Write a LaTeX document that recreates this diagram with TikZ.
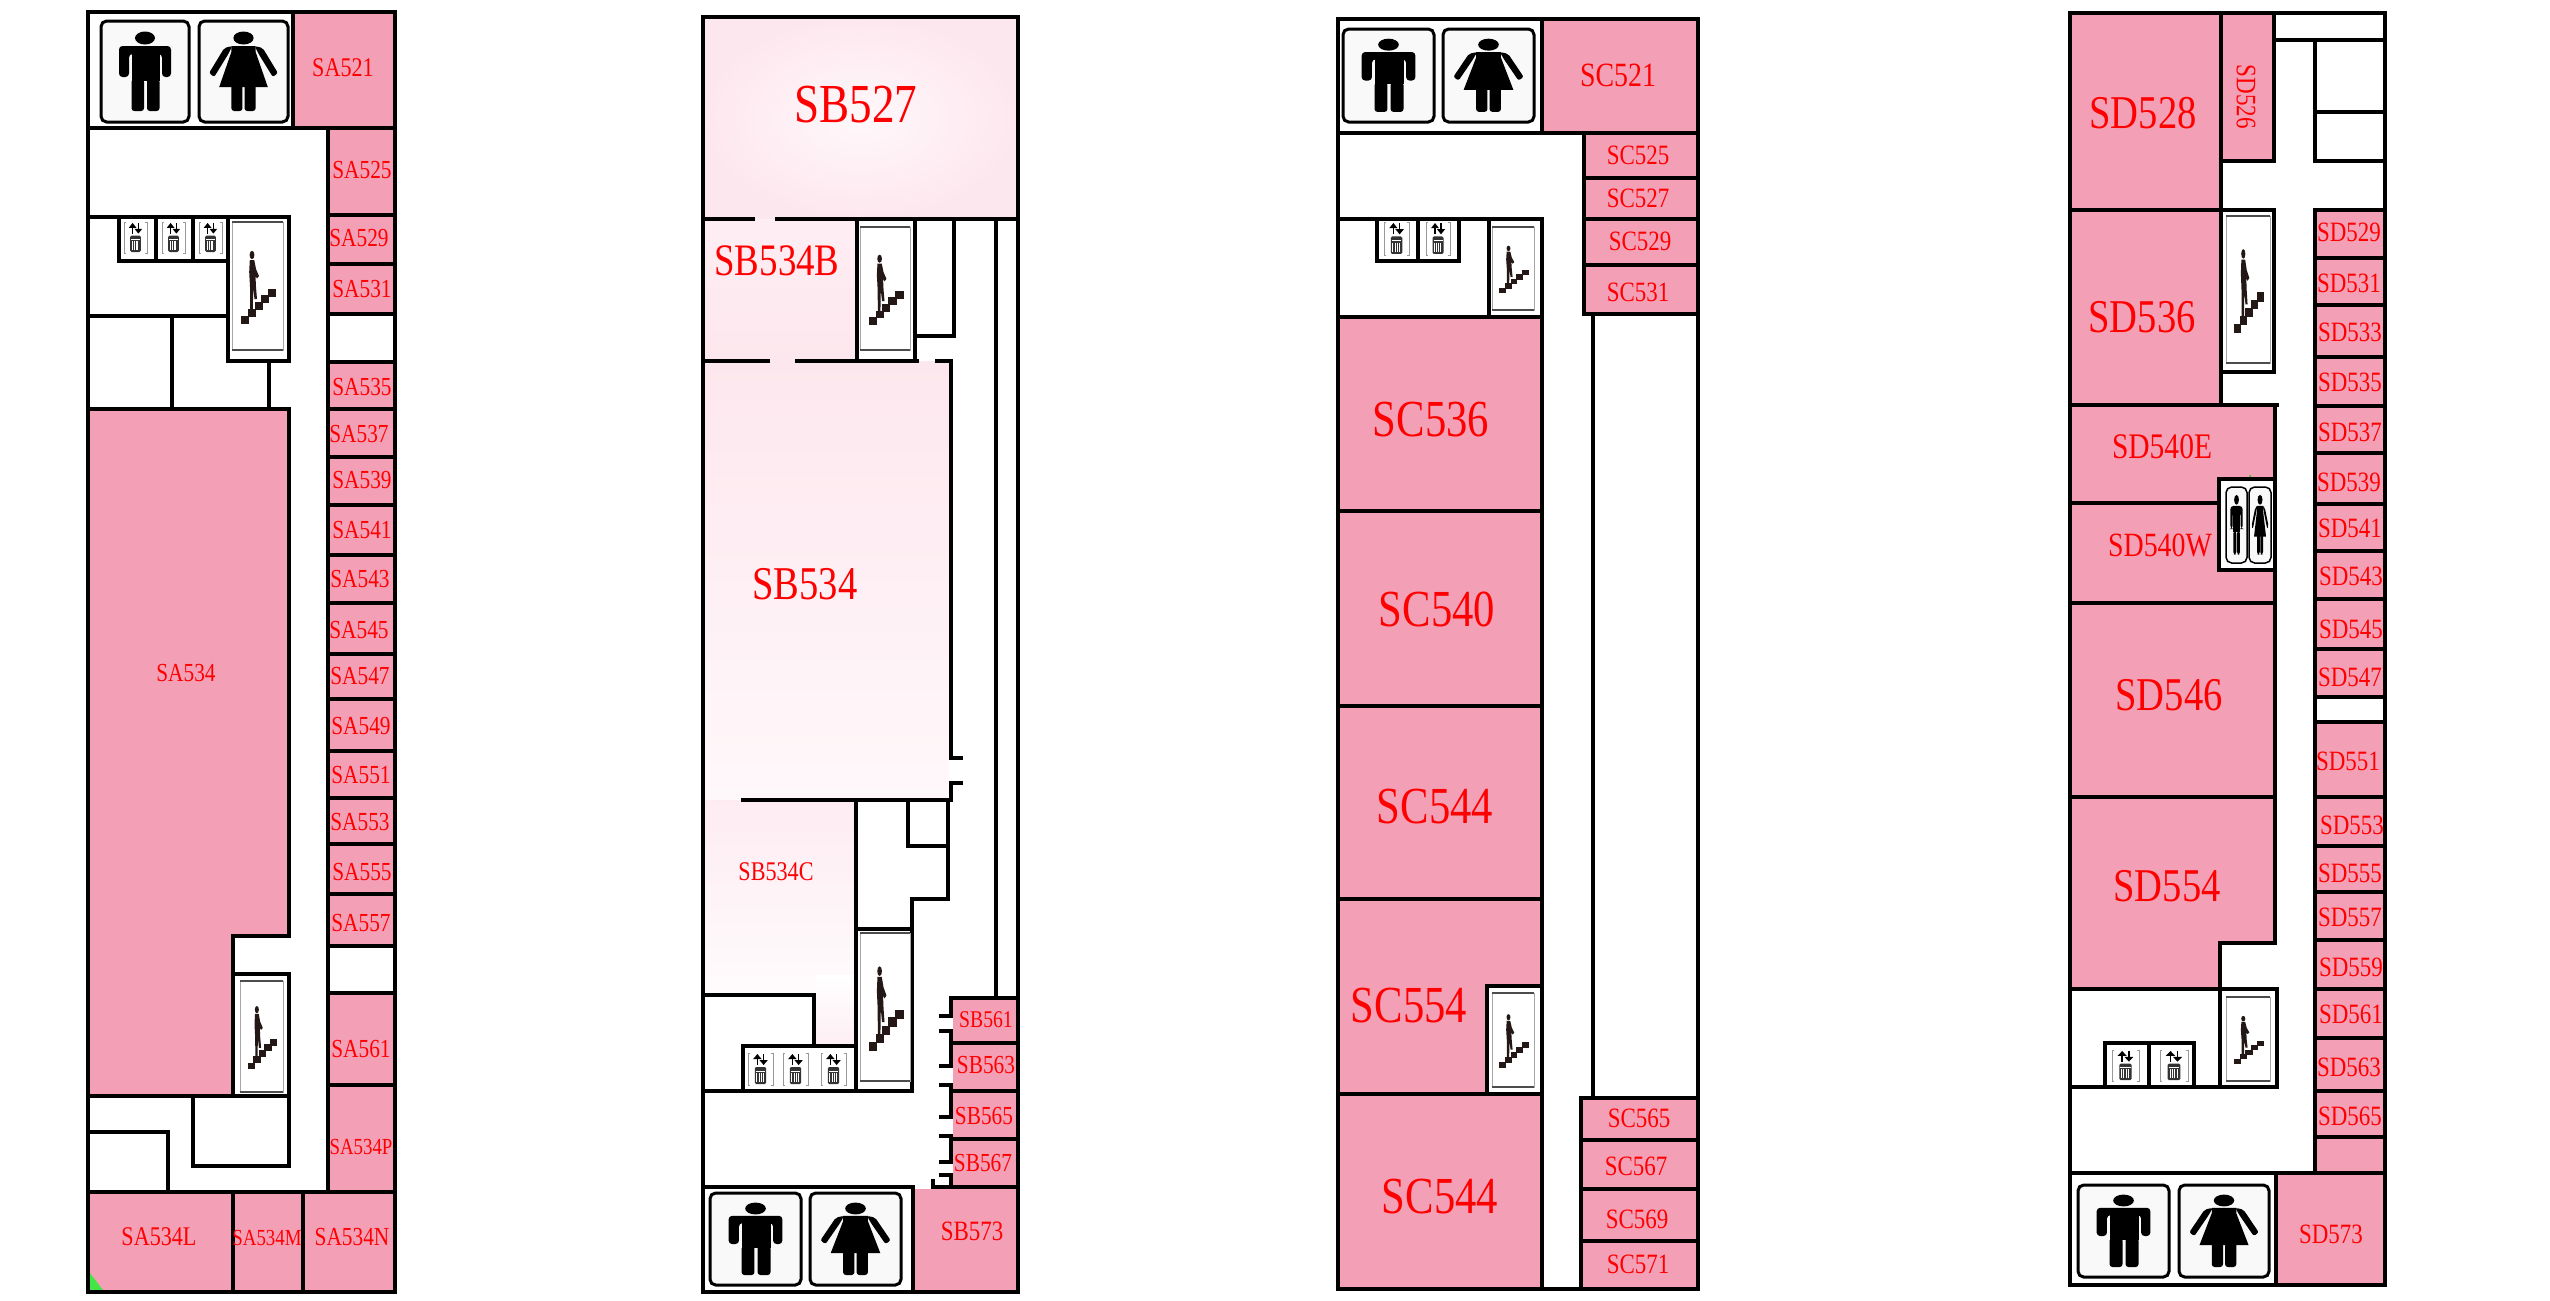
\documentclass[tikz,border=0pt]{standalone}
\usepackage{fontspec}
\newfontfamily\lab[FakeStretch=0.82]{Liberation Serif}
\definecolor{roompink}{HTML}{F3A0B7}
\definecolor{paleA}{HTML}{FDE7EE}
\definecolor{paleB}{HTML}{FFF8FA}
\definecolor{stepdark}{HTML}{231815}
\definecolor{signbg}{HTML}{F9F9F9}
\tikzset{
  wall/.style={line width=0.4mm,line join=miter,line cap=rect,draw=black},
  roomtext/.style={text=red,inner sep=0pt,outer sep=0pt,anchor=center},
  mansign/.pic={
    \draw[line width=\fpsignlw,fill=signbg,rounded corners=1.6pt] (0,0) rectangle (88,101);
    \fill[black] (44,17) ellipse [x radius=10,y radius=6.5];
    \fill[black,rounded corners=1pt] (18,56) -- (18,25) -- (70,25) -- (70,56) -- (61,56) -- (61,33) -- (28,33) -- (28,56) -- cycle;
    \fill[black] (30.5,30) rectangle (58.5,60);
    \fill[black,rounded corners=0.8pt] (30.5,58) -- (43,58) -- (43,90) -- (30.5,90) -- cycle;
    \fill[black,rounded corners=0.8pt] (46,58) -- (58.5,58) -- (58.5,90) -- (46,90) -- cycle;
  },
  womansign/.pic={
    \draw[line width=\fpsignlw,fill=signbg,rounded corners=1.6pt] (0,0) rectangle (88,101);
    \fill[black] (44,17) ellipse [x radius=10,y radius=6.5];
    \fill[black,rounded corners=0.6pt] (33,25) -- (25,27) -- (10,52) -- (15,56) -- (29,33) -- cycle;
    \fill[black,rounded corners=0.6pt] (55,25) -- (63,27) -- (78,52) -- (73,56) -- (59,33) -- cycle;
    \fill[black] (32,25) -- (56,25) -- (56,31) -- (68,66) -- (20,66) -- (32,31) -- cycle;
    \fill[black,rounded corners=0.8pt] (32,62) -- (43,62) -- (43,90) -- (32,90) -- cycle;
    \fill[black,rounded corners=0.8pt] (45,62) -- (56,62) -- (56,90) -- (45,90) -- cycle;
  },
  stairsign/.pic={
    \draw[line width=0.1mm,draw=gray!70,fill=white] (0,0) rectangle (51,128);
    \draw[line width=0.15mm,draw=black!70] (0,0) -- (51,0) (0,128) -- (51,128);
    \fill[stepdark] (20,33) ellipse [x radius=2.4,y radius=4.2];
    \fill[stepdark] (17.8,38) -- (22.2,38) -- (24,47) -- (27,54) -- (25,56.5) -- (23.5,54) -- (24,65) -- (25,77) -- (22.5,77) -- (21.2,66) -- (20.8,89) -- (18.2,89) -- (18,65) -- (17.2,50) -- cycle;
    \foreach \sx/\sy in {9/94,16/87,22.5/80,29/73,36/66.5}{
      \fill[stepdark] (\sx,\sy) rectangle +(8.4,8);
    }
  },
  liftsign/.pic={
    \draw[line width=0.08mm,draw=gray!80] (2,0) -- (0,0) -- (0,32) -- (2,32) (22,0) -- (24,0) -- (24,32) -- (22,32);
    \fill[black] (8.2,4) rectangle (9.8,12);
    \fill[black] (5,6) -- (9,1) -- (13,6) -- cycle;
    \fill[black] (14.2,1) rectangle (15.8,9);
    \fill[black] (11,7) -- (15,12) -- (19,7) -- cycle;
    \fill[black!80,rounded corners=0.4pt] (6.5,14) rectangle (17.5,31);
    \draw[line width=0.08mm,draw=white] (7.5,18) -- (16.5,18);
    \foreach \lx in {8.5,10.5,12.5,14.5}{\draw[line width=0.08mm,draw=white] (\lx,20) -- (\lx,29);}
  }
}
\newcommand{\fpsignlw}{0.3mm}
\newcommand{\fpman}[4]{\pgfmathsetmacro\fpsx{(#3-#1)/88}\pgfmathsetmacro\fpsy{(#4-#2)/101}\pic[xscale=\fpsx,yscale=\fpsy] at (#1,#2) {mansign};}
\newcommand{\fpwoman}[4]{\pgfmathsetmacro\fpsx{(#3-#1)/88}\pgfmathsetmacro\fpsy{(#4-#2)/101}\pic[xscale=\fpsx,yscale=\fpsy] at (#1,#2) {womansign};}
\newcommand{\fpstair}[4]{\pgfmathsetmacro\fpsx{(#3-#1)/51}\pgfmathsetmacro\fpsy{(#4-#2)/128}\pic[xscale=\fpsx,yscale=\fpsy] at (#1,#2) {stairsign};}
\newcommand{\fplift}[4]{\pgfmathsetmacro\fpsx{(#3-#1)/24}\pgfmathsetmacro\fpsy{(#4-#2)/32}\pic[xscale=\fpsx,yscale=\fpsy] at (#1,#2) {liftsign};}
\newcommand{\pinkroom}[4]{\draw[wall,fill=roompink] (#1,#2) rectangle (#3,#4);}
\newcommand{\whiteroom}[4]{\draw[wall,fill=white] (#1,#2) rectangle (#3,#4);}
\newcommand{\rl}[5]{\pgfmathsetmacro\fpfs{#5*0.28453}\node[roomtext] (#1) at (#2,#3) {\lab\fontsize{\fpfs pt}{\fpfs pt}\selectfont #4};}
\begin{document}
\begin{tikzpicture}[x=0.1mm,y=-0.1mm]
\useasboundingbox (0,0) rectangle (2550,1300);
\fill[white] (0,0) rectangle (2550,1300);

% ---------- Plan A ----------
\pinkroom{293}{12}{395}{128}
\foreach \a/\b in {128/215,215/264,264/314,362/409,409/457,457/505,505/555,555/603,603/654,654/699,699/751,751/798,798/844,844/894,894/946,993/1085,1085/1192}{\pinkroom{328}{\a}{395}{\b}}
\whiteroom{328}{314}{395}{362}
\whiteroom{328}{946}{395}{993}
\pinkroom{88}{1192}{233}{1292}
\pinkroom{233}{1192}{303}{1292}
\pinkroom{303}{1192}{395}{1292}
\fill[green!70!white!90!black] (90,1290) -- (90,1273) -- (103,1290) -- cycle;
\draw[wall,fill=roompink] (88,409) -- (289,409) -- (289,936) -- (233,936) -- (233,1096) -- (88,1096) -- cycle;
\draw[wall] (88,12) rectangle (395,1292);
\draw[wall] (88,128) -- (395,128);
\draw[wall] (293,12) -- (293,128);
\draw[wall] (88,217) -- (289,217) -- (289,361) -- (228,361) -- (228,217);
\draw[wall] (119,217) -- (119,261) -- (228,261);
\draw[wall] (156,217) -- (156,261) (193,217) -- (193,261);
\draw[wall] (88,316) -- (228,316);
\draw[wall] (172,316) -- (172,409);
\draw[wall] (269,361) -- (269,409);
\draw[wall] (233,974) -- (289,974) -- (289,1096) -- (233,1096);
\draw[wall] (193,1096) -- (193,1166) -- (289,1166) -- (289,1096);
\draw[wall] (88,1132) -- (168,1132) -- (168,1192);
\fpman{101}{21}{189}{122}
\fpwoman{199}{21}{288}{122}
\fplift{124}{222}{147}{253}
\fplift{162}{222}{185}{253}
\fplift{199}{222}{222}{253}
\fpstair{232}{222}{283}{350}
\fpstair{240}{981}{283}{1092}
\rl{sa521}{343}{68}{SA521}{27}
\rl{sa525}{362}{170}{SA525}{26}
\rl{sa529}{359}{238}{SA529}{26}
\rl{sa531}{362}{289}{SA531}{26}
\rl{sa535}{362}{387}{SA535}{26}
\rl{sa537}{359}{434}{SA537}{26}
\rl{sa539}{362}{480}{SA539}{26}
\rl{sa541}{362}{530}{SA541}{26}
\rl{sa543}{360}{579}{SA543}{26}
\rl{sa545}{359}{630}{SA545}{26}
\rl{sa547}{360}{676}{SA547}{26}
\rl{sa549}{361}{726}{SA549}{26}
\rl{sa551}{361}{775}{SA551}{26}
\rl{sa553}{360}{822}{SA553}{26}
\rl{sa555}{362}{872}{SA555}{26}
\rl{sa557}{361}{923}{SA557}{26}
\rl{sa561}{361}{1049}{SA561}{26}
\rl{sa534p}{361}{1147}{SA534P}{23}
\rl{sa534l}{159}{1237}{SA534L}{27}
\rl{sa534m}{267}{1238}{SA534M}{23}
\rl{sa534n}{352}{1237}{SA534N}{26}
\rl{sa534}{186}{673}{SA534}{26}

% ---------- Plan B ----------
\shade[inner color=paleB,outer color=paleA] (703,17) rectangle (1018,219);
\shade[top color=paleB!40!paleA,bottom color=paleA] (703,219) rectangle (857,361);
\shade[top color=paleA,bottom color=paleB] (703,361) rectangle (949,800);
\shade[top color=paleB!30!paleA,bottom color=white] (703,800) -- (856,800) -- (856,1046) -- (814,1046) -- (814,995) -- (703,995) -- cycle;
\shade[top color=white,bottom color=paleA!70!white] (816,975) rectangle (854,1045);
\fill[roompink] (953,998) rectangle (1018,1187);
\fill[roompink] (915,1189) rectangle (1018,1292);
\draw[wall] (703,17) rectangle (1018,1292);
\draw[wall] (703,219) -- (753,219) (777,219) -- (1018,219);
\draw[wall] (703,361) -- (768,361) (797,361) -- (917,361) (937,361) -- (951,361) -- (951,758) -- (961,758);
\draw[wall] (961,783) -- (951,783) -- (951,800) -- (743,800);
\draw[wall] (857,219) -- (857,361) (915,219) -- (915,361);
\draw[wall] (954,219) -- (954,336) -- (915,336);
\draw[wall] (996,219) -- (996,998);
\draw[wall] (856,800) -- (856,1091);
\draw[wall] (908,800) -- (908,846) -- (948,846);
\draw[wall] (948,800) -- (948,899) -- (912,899) -- (912,1091);
\draw[wall] (856,929) -- (912,929);
\draw[wall] (703,995) -- (814,995) -- (814,1046);
\draw[wall] (743,1091) -- (743,1046) -- (856,1046);
\draw[wall] (703,1091) -- (912,1091);
\draw[wall] (951,998) -- (1018,998);
\draw[wall] (951,1043) -- (1018,1043) (951,1091) -- (1018,1091) (951,1139) -- (1018,1139);
\draw[wall] (941,1016) -- (951,1016) -- (951,998);
\draw[wall] (941,1031) -- (951,1031) -- (951,1066) -- (941,1066);
\draw[wall] (941,1085) -- (951,1085) -- (951,1117) -- (941,1117);
\draw[wall] (941,1136) -- (951,1136) -- (951,1162) -- (941,1162);
\draw[wall] (941,1175) -- (951,1175) -- (951,1187);
\draw[wall] (933,1181) -- (933,1187) -- (1018,1187);
\draw[wall] (703,1187) -- (913,1187) -- (913,1292);
\fplift{748}{1053}{773}{1085}
\fplift{783}{1053}{808}{1085}
\fplift{821}{1053}{846}{1085}
\fpstair{860}{227}{910}{350}
\fpstair{860}{933}{910}{1081}
\fpman{710}{1193}{801}{1285}
\fpwoman{810}{1193}{901}{1285}
\rl{sb527}{856}{105}{SB527}{55}
\rl{sb534b}{777}{261}{SB534B}{45}
\rl{sb534x}{805}{584}{SB534}{47}
\rl{sb534c}{776}{872}{SB534C}{27}
\rl{sb561}{986}{1020}{SB561}{24}
\rl{sb563}{986}{1065}{SB563}{26}
\rl{sb565}{984}{1116}{SB565}{26}
\rl{sb567}{983}{1163}{SB567}{26}
\rl{sb573}{972}{1231}{SB573}{28}

% ---------- Plan C ----------
\pinkroom{1542}{19}{1698}{133}
\foreach \a/\b in {133/178,178/219,219/265,265/314}{\pinkroom{1584}{\a}{1698}{\b}}
\foreach \a/\b in {1098/1140,1140/1189,1189/1241,1241/1289}{\pinkroom{1581}{\a}{1698}{\b}}
\foreach \a/\b in {317/511,511/706,706/899,899/1094,1094/1289}{\pinkroom{1338}{\a}{1542}{\b}}
\draw[wall] (1338,19) rectangle (1698,1289);
\draw[wall] (1338,133) -- (1542,133);
\draw[wall] (1593,314) -- (1593,1098);
\draw[wall] (1338,219) -- (1542,219) -- (1542,317);
\draw[wall] (1489,219) -- (1489,317);
\draw[wall] (1377,219) -- (1377,261) -- (1459,261) -- (1459,219);
\draw[wall] (1418,219) -- (1418,261);
\draw[wall,fill=white] (1487,1094) -- (1487,986) -- (1542,986) -- (1542,1094) -- cycle;
\fplift{1384}{222}{1409}{255}
\fplift{1426}{222}{1450}{255}
\fpstair{1492}{227}{1534}{310}
\fpstair{1492}{993}{1534}{1087}
\fpman{1343}{29}{1434}{122}
\fpwoman{1443}{29}{1534}{122}
\rl{sc521}{1618}{75}{SC521}{34}
\rl{sc525}{1638}{155}{SC525}{28}
\rl{sc527}{1638}{198}{SC527}{28}
\rl{sc529}{1640}{241}{SC529}{28}
\rl{sc531}{1638}{292}{SC531}{28}
\rl{sc536}{1431}{420}{SC536}{52}
\rl{sc540}{1437}{609}{SC540}{52}
\rl{sc544a}{1435}{807}{SC544}{52}
\rl{sc554}{1409}{1006}{SC554}{52}
\rl{sc544b}{1440}{1197}{SC544}{52}
\rl{sc565}{1639}{1118}{SC565}{28}
\rl{sc567}{1636}{1166}{SC567}{28}
\rl{sc569}{1637}{1219}{SC569}{28}
\rl{sc571}{1638}{1264}{SC571}{28}

% ---------- Plan D ----------
\pinkroom{2070}{13}{2221}{210}
\pinkroom{2221}{13}{2274}{161}
\pinkroom{2070}{210}{2221}{405}
\pinkroom{2070}{405}{2275}{503}
\pinkroom{2070}{503}{2275}{603}
\pinkroom{2070}{603}{2275}{797}
\draw[wall,fill=roompink] (2070,797) -- (2275,797) -- (2275,943) -- (2220,943) -- (2220,989) -- (2070,989) -- cycle;
\foreach \a/\b in {210/258,258/305,305/357,357/406,406/453,453/504,504/551,551/599,599/649,649/697,722/797,797/846,846/892,892/940,940/989,989/1038,1038/1091,1091/1137,1137/1173}{\pinkroom{2315}{\a}{2385}{\b}}
\whiteroom{2315}{697}{2385}{722}
\pinkroom{2276}{1173}{2385}{1285}
\draw[wall] (2070,13) rectangle (2385,1285);
\draw[wall] (2274,40) -- (2385,40);
\draw[wall] (2315,40) -- (2315,161);
\draw[wall] (2315,112) -- (2385,112);
\draw[wall] (2315,161) -- (2385,161);
\draw[wall] (2221,161) -- (2221,405);
\draw[wall] (2221,210) -- (2274,210) -- (2274,372) -- (2221,372);
\draw[wall] (2221,405) -- (2277,405);
\draw[wall,fill=white] (2219,479) rectangle (2275,570);
\draw[wall] (2220,989) -- (2277,989) -- (2277,1087);
\draw[wall] (2220,989) -- (2220,1087);
\draw[wall] (2070,1087) -- (2277,1087);
\draw[wall] (2105,1087) -- (2105,1043) -- (2194,1043) -- (2194,1087);
\draw[wall] (2149,1043) -- (2149,1087);
\draw[wall] (2070,1173) -- (2385,1173);
\fill[green!80!black] (2250,476) circle (1);
\fpstair{2226}{216}{2270}{363}
\fpstair{2226}{997}{2270}{1081}
\fplift{2112}{1050}{2139}{1081}
\fplift{2160}{1050}{2188}{1081}
\fpman{2078}{1185}{2169}{1277}
\fpwoman{2179}{1185}{2269}{1277}
\renewcommand{\fpsignlw}{0.15mm}
\fpman{2226}{487}{2247}{563}
\fpwoman{2249}{487}{2271}{563}
\rl{sd528}{2143}{113}{SD528}{47}
\node[roomtext,rotate=-90] (sd526) at (2246,97) {\lab\fontsize{8pt}{8pt}\selectfont SD526};
\rl{sd536}{2142}{317}{SD536}{47}
\rl{sd540e}{2162}{447}{SD540E}{36}
\rl{sd540w}{2160}{545}{SD540W}{34}
\rl{sd546}{2169}{695}{SD546}{47}
\rl{sd554}{2167}{886}{SD554}{47}
\rl{sd573}{2331}{1234}{SD573}{28}
\rl{sd529}{2349}{232}{SD529}{28}
\rl{sd531}{2349}{283}{SD531}{28}
\rl{sd533}{2350}{332}{SD533}{28}
\rl{sd535}{2350}{382}{SD535}{28}
\rl{sd537}{2350}{432}{SD537}{28}
\rl{sd539}{2349}{482}{SD539}{28}
\rl{sd541}{2350}{528}{SD541}{28}
\rl{sd543}{2351}{576}{SD543}{28}
\rl{sd545}{2351}{629}{SD545}{28}
\rl{sd547}{2350}{677}{SD547}{28}
\rl{sd551}{2348}{761}{SD551}{28}
\rl{sd553}{2352}{825}{SD553}{28}
\rl{sd555}{2350}{873}{SD555}{28}
\rl{sd557}{2350}{917}{SD557}{28}
\rl{sd559}{2351}{967}{SD559}{28}
\rl{sd561}{2351}{1014}{SD561}{28}
\rl{sd563}{2349}{1067}{SD563}{28}
\rl{sd565}{2350}{1116}{SD565}{28}
\end{tikzpicture}
\end{document}
